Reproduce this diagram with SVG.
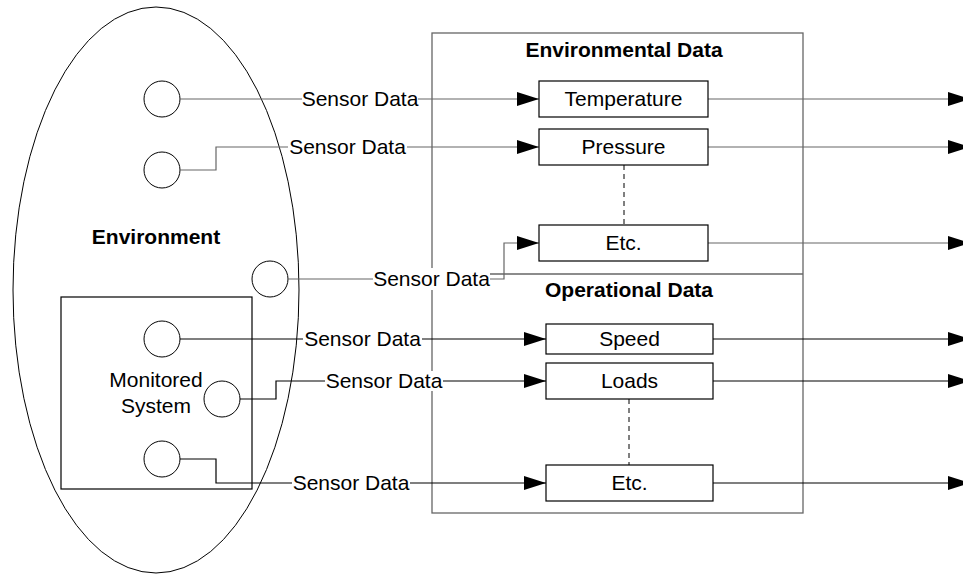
<svg xmlns="http://www.w3.org/2000/svg" width="963" height="574" viewBox="0 0 963 574">
<style>
text{font-family:"Liberation Sans",Arial,sans-serif;font-size:21px;fill:#000}
.b{font-weight:bold}
.m{text-anchor:middle}
.sh{fill:#fff;stroke:#000;stroke-width:1}
.box{fill:#fff;stroke:#000;stroke-width:1.2}
.c{fill:none;stroke:#000;stroke-width:1.2}
.g{stroke:#666}
.bg{fill:#fff;stroke:none}
.d{fill:none;stroke:#000;stroke-width:1;stroke-dasharray:5,4}
</style>
<defs>
<marker id="ah" markerUnits="userSpaceOnUse" markerWidth="22" markerHeight="14" refX="22" refY="7" orient="auto">
<path d="M0,0 L22,7 L0,14 z" fill="#000"/>
</marker>
</defs>
<rect width="963" height="574" fill="#fff"/>

<g id="environment">
<ellipse cx="156" cy="290" rx="143" ry="283" fill="none" stroke="#000" stroke-width="1"/>
<text class="b m" x="156" y="244">Environment</text>
</g>

<g id="monitored-system">
<rect x="61" y="297" width="191" height="192" fill="none" stroke="#000" stroke-width="1.2"/>
<text class="m" x="156" y="387">Monitored</text>
<text class="m" x="156" y="413">System</text>
</g>

<g id="data-frame">
<rect x="432" y="33" width="371" height="480" fill="none" stroke="#666" stroke-width="1.3"/>
<line x1="432" y1="274" x2="803" y2="274" stroke="#666" stroke-width="1.3"/>
<text class="b m" x="624" y="57">Environmental Data</text>
<text class="b m" x="629" y="297">Operational Data</text>
</g>

<g id="sensors">
<circle id="s1" class="sh" cx="162" cy="99" r="18"/>
<circle id="s2" class="sh" cx="162" cy="170" r="18"/>
<circle id="s3" class="sh" cx="270" cy="279" r="18"/>
<circle id="s4" class="sh" cx="162" cy="339" r="18"/>
<circle id="s5" class="sh" cx="222" cy="399" r="18"/>
<circle id="s6" class="sh" cx="162" cy="459" r="18"/>
</g>

<g id="connectors">
<path class="c g" d="M180,99 H539" marker-end="url(#ah)"/>
<path class="c g" d="M180,170 H216 V147 H539" marker-end="url(#ah)"/>
<path class="c g" d="M288,279 H504 V243 H539" marker-end="url(#ah)"/>
<path class="c" d="M180,339 H546" marker-end="url(#ah)"/>
<path class="c" d="M240,399 H276 V381 H546" marker-end="url(#ah)"/>
<path class="c" d="M180,459 H216 V483 H546" marker-end="url(#ah)"/>

<path class="c g" d="M708,99 H970" marker-end="url(#ah)"/>
<path class="c g" d="M708,147 H970" marker-end="url(#ah)"/>
<path class="c g" d="M708,243 H970" marker-end="url(#ah)"/>
<path class="c" d="M713,339 H970" marker-end="url(#ah)"/>
<path class="c" d="M713,381 H970" marker-end="url(#ah)"/>
<path class="c" d="M713,483 H970" marker-end="url(#ah)"/>

<line class="d" x1="624" y1="165" x2="624" y2="225"/>
<line class="d" x1="629" y1="399" x2="629" y2="465"/>

<rect class="bg" x="302" y="89" width="116" height="20"/>
<text class="m" x="360" y="106">Sensor Data</text>
<rect class="bg" x="288" y="137" width="119" height="20"/>
<text class="m" x="347.5" y="154">Sensor Data</text>
<rect class="bg" x="373" y="268" width="117" height="22"/>
<text class="m" x="431.5" y="286">Sensor Data</text>
<rect class="bg" x="303" y="329" width="119" height="20"/>
<text class="m" x="362.5" y="346">Sensor Data</text>
<rect class="bg" x="325" y="371" width="118" height="20"/>
<text class="m" x="384" y="388">Sensor Data</text>
<rect class="bg" x="292" y="473" width="118" height="20"/>
<text class="m" x="351" y="490">Sensor Data</text>
</g>

<g id="temperature"><rect class="box" x="539" y="81" width="169" height="36"/><text class="m" x="623.5" y="106">Temperature</text></g>
<g id="pressure"><rect class="box" x="539" y="129" width="169" height="36"/><text class="m" x="623.5" y="154">Pressure</text></g>
<g id="env-etc"><rect class="box" x="539" y="225" width="169" height="36"/><text class="m" x="623.5" y="250">Etc.</text></g>
<g id="speed"><rect class="box" x="546" y="324" width="167" height="30"/><text class="m" x="629.5" y="346">Speed</text></g>
<g id="loads"><rect class="box" x="546" y="363" width="167" height="36"/><text class="m" x="629.5" y="388">Loads</text></g>
<g id="op-etc"><rect class="box" x="546" y="465" width="167" height="36"/><text class="m" x="629.5" y="490">Etc.</text></g>
</svg>
